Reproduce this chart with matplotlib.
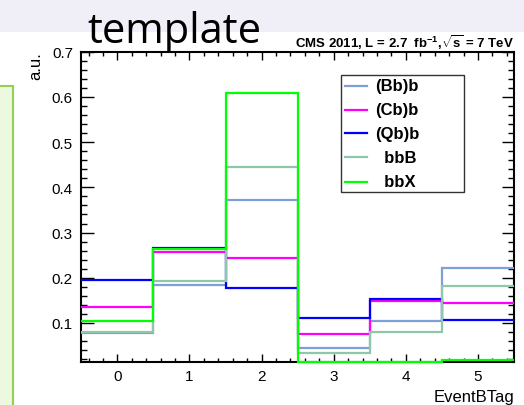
import numpy as np
import matplotlib
matplotlib.use("Agg")
import matplotlib.pyplot as plt
from matplotlib.patches import Rectangle
from matplotlib.lines import Line2D

plt.rcParams["font.family"] = ["Liberation Sans", "DejaVu Sans"]
plt.rcParams["mathtext.fontset"] = "custom"
plt.rcParams["mathtext.rm"] = "Liberation Sans"
plt.rcParams["mathtext.bf"] = "Liberation Sans:bold"

# EventBTag bins and normalised template values (a.u.)
bins = [0, 1, 2, 3, 4, 5]
bb_b = [0.078, 0.185, 0.373, 0.044, 0.105, 0.221]
cb_b = [0.135, 0.258, 0.244, 0.075, 0.149, 0.145]
qb_b = [0.195, 0.266, 0.177, 0.111, 0.154, 0.106]
bbB = [0.079, 0.193, 0.444, 0.033, 0.079, 0.182]
bbX = [0.104, 0.263, 0.608, 0.013, 0.013, 0.018]

labels = ["(Bb)b", "(Cb)b", "(Qb)b", "  bbB", "  bbX"]
colors = ["#7f9fd8", "#ff00ff", "#0000ff", "#8fc8a8", "#00ff00"]
series = [bb_b, cb_b, qb_b, bbB, bbX]

fig = plt.figure(figsize=(5.24, 4.06), dpi=100)

# slide background bits
fig.patches.append(Rectangle((0, 1 - 33 / 406), 1, 33 / 406, transform=fig.transFigure,
                             facecolor="#f0eef6", edgecolor="none", zorder=0))
fig.patches.append(Rectangle((-0.01, -0.01), 0.01 + 13 / 524, 0.01 + 1 - 87 / 406,
                             transform=fig.transFigure, facecolor="#ecf8df",
                             edgecolor="#92d050", linewidth=1.5, zorder=0))
fig.text(87 / 524, 1 - 43 / 406, "template", fontsize=30, family="Open Sans",
         ha="left", va="baseline")

ax = fig.add_axes([81.3 / 524, 1 - 363.3 / 406, 432.7 / 524, 310.6 / 406])
edges = np.arange(len(bins) + 1) - 0.5
for vals, c in zip(series, colors):
    ax.stairs(vals, edges, baseline=None, color=c, linewidth=1.6,
              clip_on=False, zorder=3)

ax.set_xlim(-0.5, 5.5)
ax.set_ylim(0.013, 0.7)
ax.set_xticks(bins)
ax.set_xticks(np.arange(-0.4, 5.5, 0.2), minor=True)
ax.set_yticks(np.arange(0.1, 0.71, 0.1))
ax.set_yticks(np.arange(0.02, 0.7, 0.02), minor=True)
ax.set_yticklabels([f"{v:.1f}" for v in np.arange(0.1, 0.71, 0.1)])
ax.tick_params(axis="both", which="both", direction="in", top=True, right=True,
               width=1.0, labelsize=11)
ax.tick_params(axis="x", which="major", length=6, pad=5)
ax.tick_params(axis="x", which="minor", length=3)
ax.tick_params(axis="y", which="major", length=9, pad=6)
ax.tick_params(axis="y", which="minor", length=4.5)
for s in ax.spines.values():
    s.set_linewidth(1.5)

ax.text(1.0, -0.125, "EventBTag", transform=ax.transAxes, fontsize=12,
        ha="right", va="baseline")
ax.text(-0.105, 1.0, "a.u.", transform=ax.transAxes, fontsize=12,
        rotation=90, ha="center", va="top")
ax.text(1.0, 1.015, r"CMS 2011, L = 2.7  fb$^{\mathbf{-1}}$,$\sqrt{\mathbf{s}}$ = 7 TeV",
        transform=ax.transAxes, fontsize=9.5, fontweight="bold",
        ha="right", va="baseline")

# ROOT-style legend box
ax.add_patch(Rectangle((0.5995, 0.547), 0.2857, 0.379, transform=ax.transAxes,
                       facecolor="white", edgecolor="#333333", linewidth=1.0, zorder=5))
entry_y = [0.8905, 0.8123, 0.7373, 0.660, 0.5815]
for y, lab, c in zip(entry_y, labels, colors):
    ax.add_line(Line2D([0.610, 0.661], [y, y], transform=ax.transAxes,
                       color=c, linewidth=1.6, zorder=6))
    ax.text(0.6795, y, lab, transform=ax.transAxes, fontsize=12,
            fontweight="bold", ha="left", va="center", zorder=6)

fig.savefig("out.png", dpi=100)
